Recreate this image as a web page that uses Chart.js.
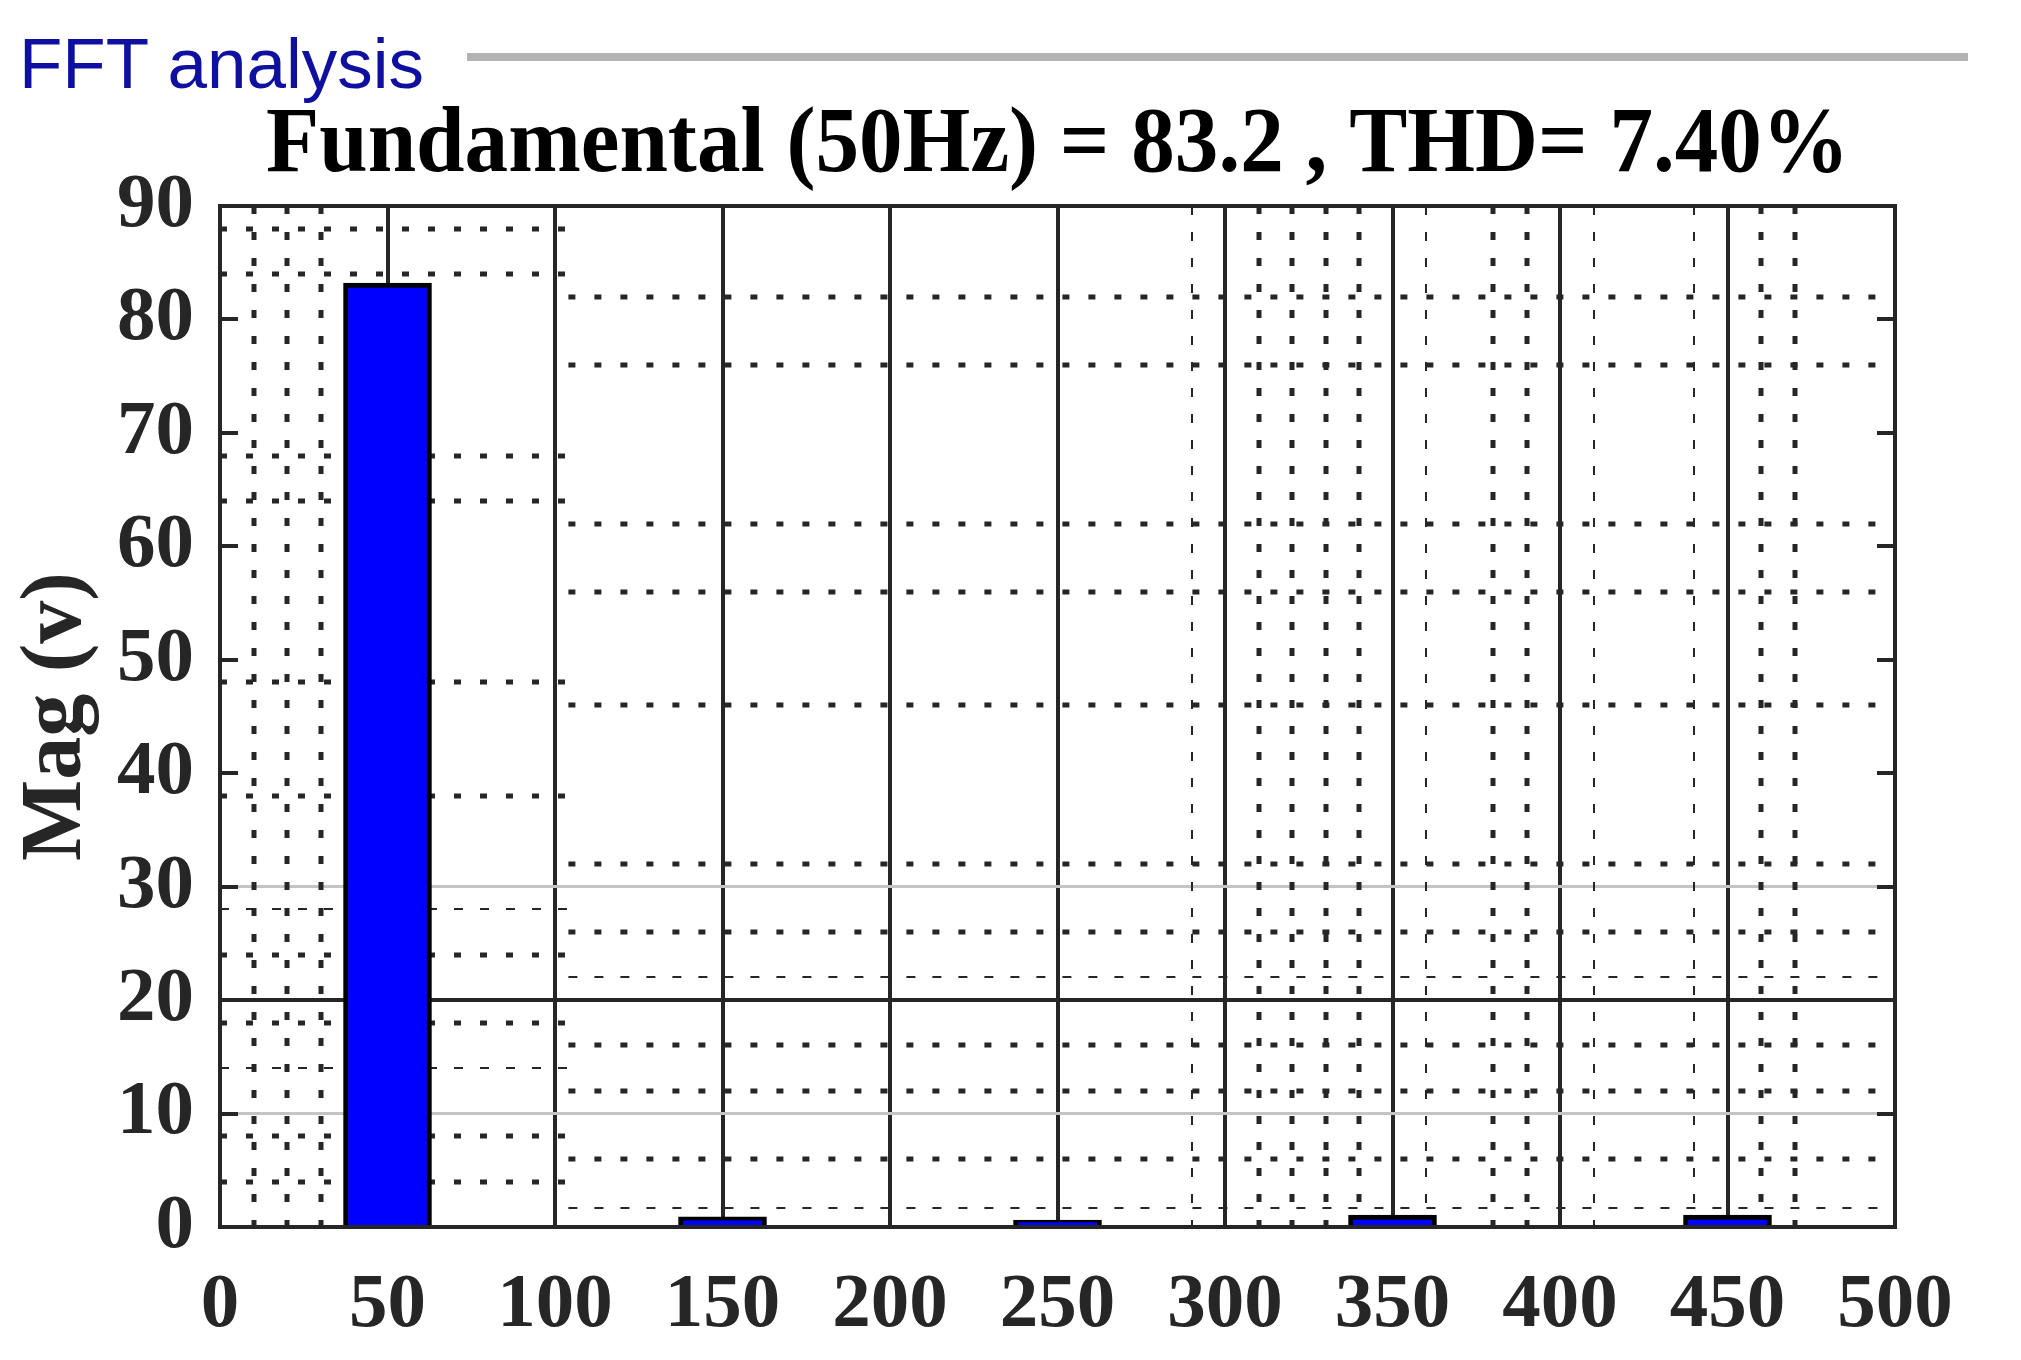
<!DOCTYPE html>
<html>
<head>
<meta charset="utf-8">
<title>FFT analysis</title>
<script src="https://cdn.jsdelivr.net/npm/chart.js@4.4.1/dist/chart.umd.min.js"></script>
<style>
  html, body { margin: 0; padding: 0; background: #fff; }
  #wrap { position: relative; width: 2021px; height: 1360px; overflow: hidden; }
  #fftChart { position: absolute; left: 0; top: 0; }
  #heading {
    position: absolute; left: 19px; top: 28px;
    font: 71px/71px "Liberation Sans", Arial, sans-serif;
    color: #1010a0; white-space: nowrap;
  }
  #rule { position: absolute; left: 467px; top: 53px; width: 1501px; height: 8px; background: #b3b3b3; }
</style>
</head>
<body>
<div id="wrap">
  <canvas id="fftChart" width="2021" height="1360"></canvas>
  <div id="heading">FFT analysis</div>
  <div id="rule"></div>
</div>
<script>
// harmonic bars (Hz -> magnitude)
const harmonicsHz = [50, 150, 250, 350, 450];
const magnitudes = [83.2, 0.9, 0.6, 1.05, 1.05];

const xMin = 0, xMax = 500, xStep = 50;
const yMin = 0, yMax = 90, yStep = 10;

const chartTitle = "Fundamental (50Hz) = 83.2 , THD= 7.40%";
const yTitle = "Mag (v)";

// leftover dotted grid from the scope picture
const splitHz = 104;
const leftDotRows = [88, 84, 68, 64, 48, 38, 28, 24, 18, 14, 8, 4];
const rightDotRows = [82, 76, 62, 56, 46, 32, 26, 22, 16, 12, 6, 1.7];
const thinRows = [28, 14, 22, 1.7];
const leftDotCols = [10, 20, 30];
const rightDotCols = [290, 310, 320, 330, 340, 360, 380, 390, 410, 440, 460, 470];
const thinCols = [290, 360, 410, 440];

const solidRows = [20];
const grayRows = [10, 30];

const ink = "#262626";
const serif = '"Liberation Serif", "Times New Roman", serif';

const gridExtras = {
  id: "gridExtras",
  beforeDatasetsDraw(chart) {
    const { ctx, chartArea: a, scales: { x, y } } = chart;
    ctx.save();
    ctx.beginPath();
    ctx.rect(a.left, a.top, a.right - a.left, a.bottom - a.top);
    ctx.clip();
    ctx.strokeStyle = ink;

    const hLine = (v, x0, x1) => {
      const thin = thinRows.includes(v);
      ctx.lineWidth = thin ? 2 : 5;
      ctx.setLineDash(thin ? [9, 17] : [7, 19]);
      const py = Math.round(y.getPixelForValue(v));
      ctx.beginPath();
      ctx.moveTo(x.getPixelForValue(x0), py);
      ctx.lineTo(x.getPixelForValue(x1), py);
      ctx.stroke();
    };
    const vLine = (v) => {
      const thin = thinCols.includes(v);
      ctx.lineWidth = thin ? 2 : 5;
      ctx.setLineDash(thin ? [9, 17] : [8, 18]);
      const px = Math.round(x.getPixelForValue(v));
      ctx.beginPath();
      ctx.moveTo(px, a.top);
      ctx.lineTo(px, a.bottom);
      ctx.stroke();
    };

    leftDotRows.forEach(v => hLine(v, xMin, splitHz));
    rightDotRows.forEach(v => hLine(v, splitHz, xMax));
    leftDotCols.forEach(vLine);
    rightDotCols.forEach(vLine);
    ctx.restore();
  },
  afterDatasetsDraw(chart) {
    const { ctx, chartArea: a, scales: { y } } = chart;
    ctx.save();
    ctx.strokeStyle = ink;
    ctx.lineWidth = 4;
    ctx.strokeRect(a.left, a.top, a.right - a.left, a.bottom - a.top);
    // inward y ticks on both sides
    for (let v = yMin + yStep; v < yMax; v += yStep) {
      const py = Math.round(y.getPixelForValue(v));
      ctx.beginPath();
      ctx.moveTo(a.left, py); ctx.lineTo(a.left + 18, py);
      ctx.moveTo(a.right, py); ctx.lineTo(a.right - 18, py);
      ctx.stroke();
    }
    ctx.restore();
  },
  afterDraw(chart) {
    // title centred over the plot box, a bit narrow like the original
    const { ctx, chartArea: a } = chart;
    ctx.save();
    ctx.font = "bold 94px " + serif;
    ctx.fillStyle = "#000";
    ctx.textAlign = "center";
    ctx.textBaseline = "alphabetic";
    ctx.translate((a.left + a.right) / 2, 171);
    ctx.scale(0.927, 1);
    ctx.fillText(chartTitle, 0, 0);
    ctx.restore();
  }
};

const ctx = document.getElementById("fftChart");
new Chart(ctx, {
  type: "bar",
  data: {
    datasets: [
      {
        label: "Mag",
        data: harmonicsHz.map((f, i) => ({ x: f, y: magnitudes[i] })),
        backgroundColor: "#0000ff",
        borderColor: "#000000",
        borderWidth: 5,
        borderSkipped: "start",
        barThickness: 88,
      },
    ],
  },
  options: {
    responsive: false,
    animation: false,
    layout: { padding: { left: 0, right: 126, top: 206, bottom: 0 } },
    plugins: {
      legend: { display: false },
      tooltip: { enabled: false },
      title: { display: false },
    },
    scales: {
      x: {
        type: "linear",
        min: xMin,
        max: xMax,
        offset: false,
        ticks: {
          stepSize: xStep,
          color: ink,
          padding: 33,
          maxRotation: 0,
          font: { family: serif, size: 77, weight: "bold" },
        },
        grid: {
          offset: false,
          drawTicks: false,
          color: (c) => (c.tick && c.tick.value > xMin && c.tick.value < xMax ? ink : "transparent"),
          lineWidth: 4,
        },
        border: { display: true, color: ink, width: 4 },
        afterFit: (s) => { s.height = 133; },
      },
      y: {
        min: yMin,
        max: yMax,
        ticks: {
          stepSize: yStep,
          color: ink,
          padding: 26,
          font: { family: serif, size: 77, weight: "bold" },
        },
        grid: {
          drawTicks: false,
          color: (c) => {
            const v = c.tick && c.tick.value;
            if (solidRows.includes(v)) return ink;
            if (grayRows.includes(v)) return "#c4c4c4";
            return "transparent";
          },
          lineWidth: (c) => (grayRows.includes(c.tick && c.tick.value) ? 3 : 4),
        },
        border: { display: true, color: ink, width: 4 },
        title: {
          display: true,
          text: yTitle,
          color: ink,
          font: { family: serif, size: 86, weight: "bold" },
          padding: { top: 6, bottom: 0 },
        },
        afterFit: (s) => { s.width = 220; },
      },
    },
  },
  plugins: [gridExtras],
});
</script>
</body>
</html>
